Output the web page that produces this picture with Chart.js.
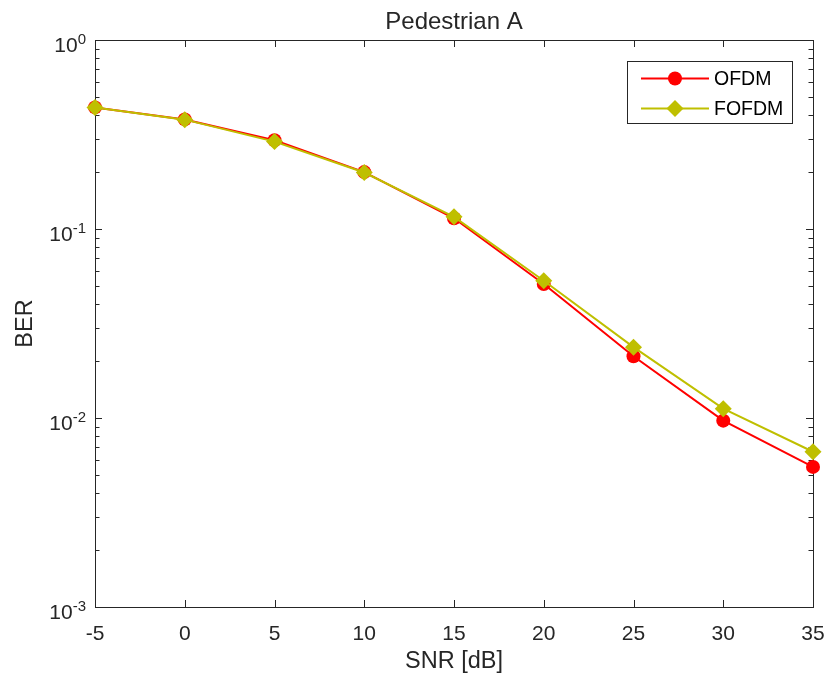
<!DOCTYPE html>
<html>
<head>
<meta charset="utf-8">
<script src="https://cdn.jsdelivr.net/npm/chart.js@4.4.1/dist/chart.umd.min.js"></script>
<style>
  html, body { margin: 0; padding: 0; background: #fff; }
  #wrap { width: 826px; height: 679px; }
</style>
</head>
<body>
<div id="wrap"><canvas id="berChart" width="826" height="679"></canvas></div>
<script>
// data
const snr = [-5, 0, 5, 10, 15, 20, 25, 30, 35];
const berOfdm = [0.440, 0.380, 0.295, 0.200, 0.114, 0.0512, 0.0212, 0.00968, 0.00551];
const berFofdm = [0.440, 0.379, 0.290, 0.199, 0.116, 0.0532, 0.0237, 0.0112, 0.00663];

const xTicks = [-5, 0, 5, 10, 15, 20, 25, 30, 35];
const yDecades = [-3, -2, -1, 0];
const titleText = 'Pedestrian A';
const xTitle = 'SNR [dB]';
const yTitle = 'BER';

const AX = '#262626';
const FONT = '"Liberation Sans", Arial, sans-serif';

// frame, ticks and labels in the MATLAB look
const axesPlugin = {
  id: 'matlabAxes',
  beforeDatasetsDraw(chart) {
    const { ctx, chartArea: a, scales } = chart;
    const xs = scales.x, ys = scales.y;
    ctx.save();
    ctx.strokeStyle = AX;
    ctx.lineWidth = 1;
    ctx.strokeRect(a.left + 0.5, a.top + 0.5, a.right - a.left, a.bottom - a.top);

    ctx.beginPath();
    xTicks.forEach(v => {
      const px = Math.round(xs.getPixelForValue(v)) + 0.5;
      ctx.moveTo(px, a.bottom); ctx.lineTo(px, a.bottom - 7);
      ctx.moveTo(px, a.top); ctx.lineTo(px, a.top + 7);
    });
    yDecades.forEach((e, i) => {
      const py = Math.round(ys.getPixelForValue(Math.pow(10, e))) + 0.5;
      ctx.moveTo(a.left, py); ctx.lineTo(a.left + 7, py);
      ctx.moveTo(a.right, py); ctx.lineTo(a.right - 7, py);
      if (i < yDecades.length - 1) {
        for (let m = 2; m <= 9; m++) {
          const pm = Math.round(ys.getPixelForValue(m * Math.pow(10, e))) + 0.5;
          ctx.moveTo(a.left, pm); ctx.lineTo(a.left + 4.5, pm);
          ctx.moveTo(a.right, pm); ctx.lineTo(a.right - 4.5, pm);
        }
      }
    });
    ctx.stroke();

    ctx.fillStyle = AX;
    ctx.font = '21px ' + FONT;
    ctx.textAlign = 'center';
    ctx.textBaseline = 'alphabetic';
    xTicks.forEach(v => {
      ctx.fillText(String(v), xs.getPixelForValue(v), a.bottom + 33);
    });

    yDecades.forEach(e => {
      const py = ys.getPixelForValue(Math.pow(10, e));
      const right = a.left - 9;
      ctx.textAlign = 'right';
      ctx.font = '15px ' + FONT;
      const sup = String(e);
      ctx.fillText(sup, right, py + 4);
      const w = ctx.measureText(sup).width;
      ctx.font = '21px ' + FONT;
      ctx.fillText('10', right - w, py + 11.5);
    });

    ctx.textAlign = 'center';
    ctx.font = '23.5px ' + FONT;
    ctx.fillText(xTitle, (a.left + a.right) / 2, a.bottom + 61);
    ctx.font = '24px ' + FONT;
    ctx.fillText(titleText, (a.left + a.right) / 2, 28.5);
    ctx.save();
    ctx.font = '23.5px ' + FONT;
    ctx.translate(32, (a.top + a.bottom) / 2);
    ctx.rotate(-Math.PI / 2);
    ctx.fillText(yTitle, 0, 0);
    ctx.restore();
    ctx.restore();
  },
  afterDatasetsDraw(chart) {
    // legend box in the upper right corner
    const { ctx } = chart;
    const box = { x: 627.5, y: 61.5, w: 165, h: 62 };
    ctx.save();
    ctx.fillStyle = '#fff';
    ctx.fillRect(box.x, box.y, box.w, box.h);
    ctx.strokeStyle = AX;
    ctx.lineWidth = 1;
    ctx.strokeRect(box.x, box.y, box.w, box.h);
    chart.data.datasets.forEach((ds, i) => {
      const cy = 78.5 + i * 30;
      ctx.strokeStyle = ds.borderColor;
      ctx.lineWidth = ds.borderWidth;
      ctx.beginPath();
      ctx.moveTo(641, cy); ctx.lineTo(709, cy);
      ctx.stroke();
      ctx.fillStyle = ds.pointBackgroundColor;
      ctx.beginPath();
      if (ds.pointStyle === 'circle') {
        ctx.arc(675, cy, ds.pointRadius, 0, Math.PI * 2);
      } else {
        const r = ds.pointRadius;
        ctx.moveTo(675, cy - r); ctx.lineTo(675 + r, cy);
        ctx.lineTo(675, cy + r); ctx.lineTo(675 - r, cy);
        ctx.closePath();
      }
      ctx.fill();
      ctx.fillStyle = '#000';
      ctx.font = '19.5px ' + FONT;
      ctx.textAlign = 'left';
      ctx.textBaseline = 'middle';
      ctx.fillText(ds.label, 714, cy + 1);
    });
    ctx.restore();
  }
};

const ctx = document.getElementById('berChart').getContext('2d');
new Chart(ctx, {
  type: 'line',
  data: {
    datasets: [
      {
        label: 'OFDM',
        data: snr.map((s, i) => ({ x: s, y: berOfdm[i] })),
        borderColor: '#ff0000',
        backgroundColor: '#ff0000',
        pointBackgroundColor: '#ff0000',
        pointBorderWidth: 0,
        borderWidth: 2,
        pointStyle: 'circle',
        pointRadius: 7,
        clip: false,
        order: 1
      },
      {
        label: 'FOFDM',
        data: snr.map((s, i) => ({ x: s, y: berFofdm[i] })),
        borderColor: '#bfbf00',
        backgroundColor: '#bfbf00',
        pointBackgroundColor: '#bfbf00',
        pointBorderWidth: 0,
        borderWidth: 2,
        pointStyle: 'rectRot',
        pointRadius: 8.5,
        clip: false,
        order: 0
      }
    ]
  },
  options: {
    responsive: false,
    animation: false,
    layout: { padding: { left: 95, right: 13, top: 40, bottom: 72 } },
    plugins: { legend: { display: false }, tooltip: { enabled: false } },
    scales: {
      x: { type: 'linear', min: -5, max: 35, display: false },
      y: { type: 'logarithmic', min: 0.001, max: 1, display: false }
    }
  },
  plugins: [axesPlugin]
});
</script>
</body>
</html>
